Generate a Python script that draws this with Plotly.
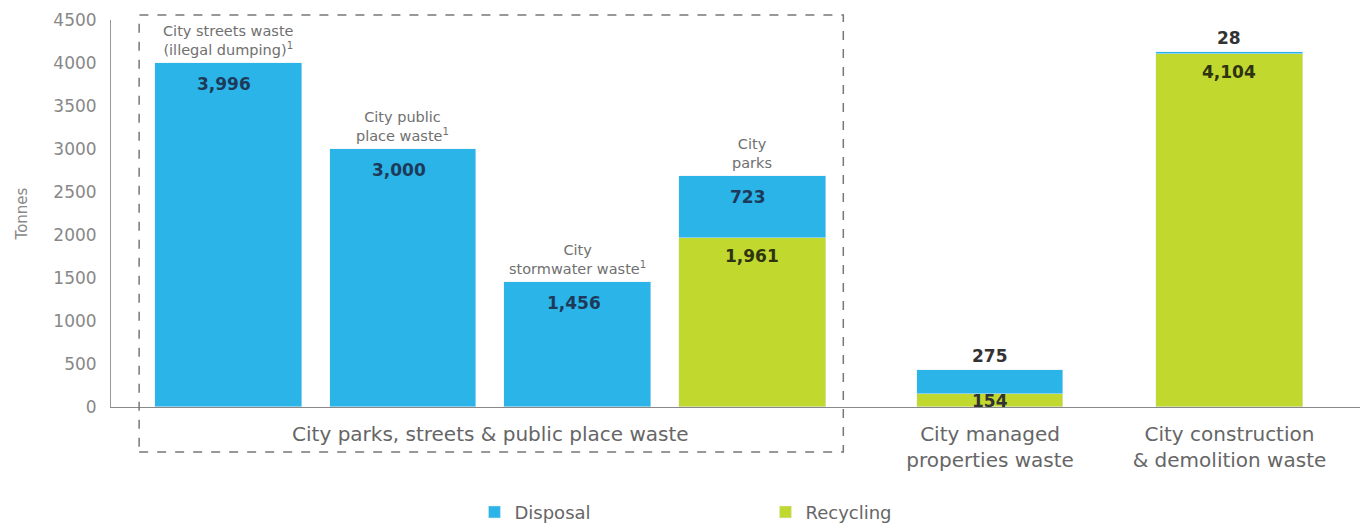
import plotly.graph_objects as go

# data
streams = ["City streets waste", "City public place waste", "City stormwater waste",
           "City parks", "City managed properties waste", "City construction & demolition waste"]
bar_titles = ["City streets waste<br>(illegal dumping)<sup>1</sup>",
              "City public<br>place waste<sup>1</sup>",
              "City<br>stormwater waste<sup>1</sup>",
              "City<br>parks", "", ""]
disposal = [3996, 3000, 1456, 723, 275, 28]
recycling = [0, 0, 0, 1961, 154, 4104]
group_labels = ["City parks, streets & public place waste",
                "City managed<br>properties waste",
                "City construction<br>& demolition waste"]
y_ticks = [0, 500, 1000, 1500, 2000, 2500, 3000, 3500, 4000, 4500]

# layout helpers (bar slots on a numeric axis so the groups can be spaced apart)
slot_x = [0, 1, 2, 3, 4.36, 5.73]
group_x = [sum(slot_x[:4]) / 4, slot_x[4], slot_x[5]]
BLUE = "#2bb4e7"
GREEN = "#c1d82f"
GREY = "#666666"
FONT = "DejaVu Sans, Verdana, sans-serif"

fig = go.Figure()
fig.add_trace(go.Bar(x=slot_x, y=recycling, name="Recycling", marker_color=GREEN,
                     width=0.84, hoverinfo="skip"))
fig.add_trace(go.Bar(x=slot_x, y=disposal, name="Disposal", marker_color=BLUE,
                     width=0.84, hoverinfo="skip"))

# value labels
val_font = dict(size=17, weight="bold")
for i, x in enumerate(slot_x):
    total = disposal[i] + recycling[i]
    if disposal[i] > 500:
        fig.add_annotation(x=x, y=total, text=f"{disposal[i]:,}", yshift=-21, xshift=-4,
                           showarrow=False, font=dict(val_font, color="#1d3a5a"))
    else:
        fig.add_annotation(x=x, y=total, text=f"{disposal[i]:,}", yshift=14,
                           showarrow=False, font=dict(val_font, color="#333333"))
    if recycling[i] > 500:
        fig.add_annotation(x=x, y=recycling[i], text=f"{recycling[i]:,}", yshift=-18,
                           showarrow=False, font=dict(val_font, color="#2e3310"))
    elif recycling[i] > 0:
        fig.add_annotation(x=x, y=recycling[i], text=f"{recycling[i]:,}", yshift=-7,
                           showarrow=False, font=dict(val_font, color="#333333"))
    if bar_titles[i]:
        fig.add_annotation(x=x, y=total, text=bar_titles[i], yanchor="bottom", yshift=3,
                           showarrow=False, font=dict(size=14.5, color="#707070"))

# dashed box around the parks/streets group
fig.add_shape(type="rect", xref="x", yref="paper", x0=-0.51, x1=3.52, y0=-0.116, y1=1.013,
              line=dict(color="#777777", width=1.5, dash="dash"))

fig.update_layout(
    width=1362, height=523,
    margin=dict(l=111, r=2, t=20, b=116, autoexpand=False),
    plot_bgcolor="white", paper_bgcolor="white",
    barmode="stack", bargap=0,
    font=dict(family=FONT, color=GREY),
    showlegend=True,
    legend=dict(orientation="h", x=0.291, xanchor="left", y=-0.272, yanchor="middle",
                traceorder="reversed", entrywidth=246, entrywidthmode="pixels",
                font=dict(size=18, color=GREY)),
)
fig.update_xaxes(range=[-0.671, 6.477], tickvals=group_x, ticktext=group_labels,
                 tickfont=dict(size=20, color=GREY), showline=True, linecolor="#888888",
                 showgrid=False, zeroline=False, ticks="", ticklabelstandoff=9)
fig.update_yaxes(range=[0, 4500], tickvals=y_ticks, tickfont=dict(size=17, color="#888888"),
                 showline=True, linecolor="#999999", showgrid=False, zeroline=False,
                 ticks="", ticklabelstandoff=10,
                 title=dict(text="Tonnes", font=dict(size=15, color="#888888"), standoff=22))

fig.write_html("out.html", config={"displayModeBar": False},
               post_script="document.body.style.margin='0';")
